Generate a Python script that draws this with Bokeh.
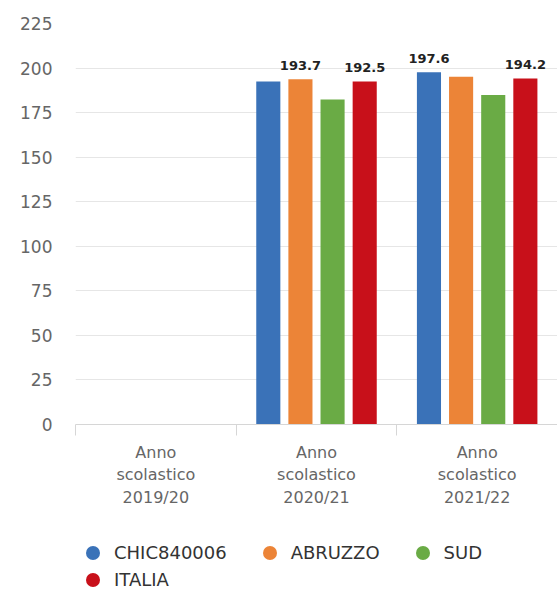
import numpy as np
from bokeh.plotting import figure
from bokeh.layouts import column
from bokeh.core.properties import value
from bokeh.models import ColumnDataSource, FixedTicker, Legend, LegendItem, Range1d
from bokeh.embed import file_html
from bokeh.resources import INLINE

# ---- data ----
categories = ["Anno\nscolastico\n2019/20", "Anno\nscolastico\n2020/21", "Anno\nscolastico\n2021/22"]
series_names = ["CHIC840006", "ABRUZZO", "SUD", "ITALIA"]
chic = [np.nan, 192.4, 197.6]
abruzzo = [np.nan, 193.7, 195.1]
sud = [np.nan, 182.4, 184.9]
italia = [np.nan, 192.5, 194.2]
# data labels visible in the reference
chic_labels = ["", "", "197.6"]
abruzzo_labels = ["", "193.7", ""]
sud_labels = ["", "", ""]
italia_labels = ["", "192.5", "194.2"]
y_ticks = [0, 25, 50, 75, 100, 125, 150, 175, 200, 225]

colors = ["#3a72b8", "#ec8437", "#6aab45", "#c8101a"]
FONT = "DejaVu Sans"

p = figure(width=557, height=510, output_backend="svg", toolbar_location=None,
           x_range=Range1d(0, 3), y_range=Range1d(0, 225),
           min_border_left=75, min_border_right=0, min_border_top=23,
           min_border_bottom=83)
p.outline_line_color = None
p.background_fill_color = "white"
p.border_fill_color = "white"

centers = np.arange(len(categories)) + 0.5
offsets = [-0.3, -0.1, 0.1, 0.3]
bar_w = 0.15
all_vals = [chic, abruzzo, sud, italia]
all_labels = [chic_labels, abruzzo_labels, sud_labels, italia_labels]

for name, vals, labs, col, off in zip(series_names, all_vals, all_labels, colors, offsets):
    src = ColumnDataSource(dict(x=centers + off, top=vals, lab=labs))
    p.vbar(x="x", top="top", width=bar_w, source=src, fill_color=col, line_color=None)
    p.text(x="x", y="top", text="lab", source=src, text_align="center",
           text_baseline="bottom", y_offset=-9, text_font_size="13px",
           text_font_style="bold", text_color="#222222", text_font=value(FONT))

# x axis
xa = p.xaxis[0]
xa.ticker = FixedTicker(ticks=list(centers), minor_ticks=[0, 1, 2, 3])
xa.major_label_overrides = {float(c): lab for c, lab in zip(centers, categories)}
xa.major_tick_out = 0
xa.major_tick_in = 0
xa.minor_tick_out = 11
xa.minor_tick_in = 0
xa.minor_tick_line_color = "#d6d6d6"
xa.axis_line_color = "#d6d6d6"
xa.major_label_standoff = 7
xa.major_label_text_font = FONT
xa.major_label_text_font_size = "16px"
xa.major_label_text_color = "#666666"
xa.major_label_text_align = "center"

# y axis
ya = p.yaxis[0]
ya.ticker = FixedTicker(ticks=y_ticks)
ya.axis_line_color = None
ya.major_tick_line_color = None
ya.minor_tick_line_color = None
ya.major_label_standoff = 17
ya.major_label_text_font = FONT
ya.major_label_text_font_size = "17px"
ya.major_label_text_color = "#666666"

p.xgrid.grid_line_color = None
p.ygrid.ticker = FixedTicker(ticks=y_ticks)
p.ygrid.grid_line_color = "#e6e6e6"

# ---- legend figure ----
lg = figure(width=557, height=81, output_backend="svg", toolbar_location=None,
            x_range=Range1d(0, 1), y_range=Range1d(0, 1),
            x_axis_type=None, y_axis_type=None,
            min_border_left=0, min_border_right=0, min_border_top=0, min_border_bottom=0)
lg.outline_line_color = None
lg.xgrid.visible = False
lg.ygrid.visible = False

items = []
for name, col in zip(series_names, colors):
    r = lg.scatter(x=[np.nan], y=[np.nan], marker="circle", fill_color=col, line_color=None)
    items.append(LegendItem(label=name, renderers=[r]))

common = dict(orientation="horizontal", margin=0, padding=0, spacing=25,
              glyph_width=35, glyph_height=35, label_standoff=4,
              label_text_font=FONT, label_text_font_size="18px",
              label_text_color="#333333", border_line_color=None,
              background_fill_alpha=0)
leg1 = Legend(items=items[:3], location=(0, 21.5), **common)
leg2 = Legend(items=items[3:], location=(0, -5.5), **common)
lg.add_layout(leg1, "center")
lg.add_layout(leg2, "center")

layout = column(p, lg, spacing=0)
open("out.html", "w").write(file_html(layout, INLINE))
